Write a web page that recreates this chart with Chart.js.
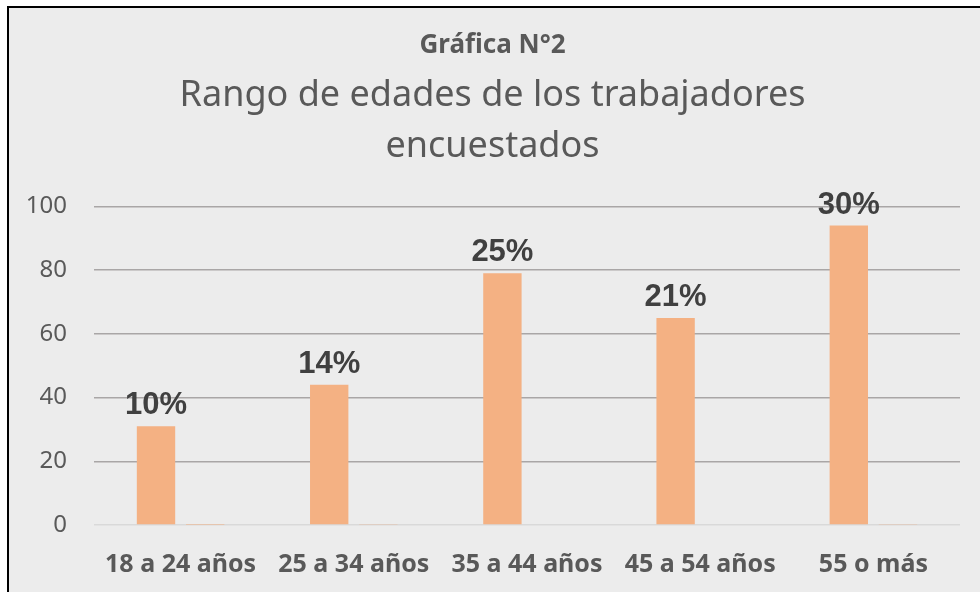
<!DOCTYPE html>
<html>
<head>
<meta charset="utf-8">
<script src="https://cdn.jsdelivr.net/npm/chart.js@4"></script>
<style>
  html, body { margin: 0; padding: 0; background: #ffffff; }
  .frame {
    position: absolute; left: 7px; top: 6px; width: 990px; height: 600px;
    background: #ececec; border-left: 2px solid #000; border-top: 2px solid #000;
  }
  .wrap { position: absolute; left: 0; top: 0; width: 980px; height: 592px; }
</style>
</head>
<body>
<div class="frame"></div>
<div class="wrap"><canvas id="edadesChart"></canvas></div>
<script>
// data
const categories = ['18 a 24 años', '25 a 34 años', '35 a 44 años', '45 a 54 años', '55 o más'];
const workers = [31, 44, 79, 65, 94];
const shares = [0.10, 0.14, 0.25, 0.21, 0.30];
const shareLabels = ['10%', '14%', '25%', '21%', '30%'];
const yTicks = [0, 20, 40, 60, 80, 100];

const FONT = '"Noto Sans", "Open Sans", sans-serif';

// draws the % above the first series bars
const barLabels = {
    id: 'barLabels',
    afterDatasetsDraw(chart) {
        const ctx = chart.ctx;
        const meta = chart.getDatasetMeta(0);
        ctx.save();
        ctx.font = 'bold 31px "Liberation Sans", Arial, sans-serif';
        ctx.fillStyle = '#404040';
        ctx.textAlign = 'center';
        ctx.textBaseline = 'alphabetic';
        meta.data.forEach((bar, i) => {
            ctx.fillText(shareLabels[i], bar.x, bar.y - 12);
        });
        ctx.restore();
    }
};

function draw() {
    new Chart(document.getElementById('edadesChart'), {
        type: 'bar',
        data: {
            labels: categories,
            datasets: [
                {
                    label: 'Trabajadores',
                    data: workers,
                    backgroundColor: '#f4b183',
                    borderWidth: 0,
                    categoryPercentage: 0.568,
                    barPercentage: 0.78
                },
                {
                    label: 'Porcentaje',
                    data: shares,
                    backgroundColor: '#f4b183',
                    borderWidth: 0,
                    categoryPercentage: 0.568,
                    barPercentage: 0.78
                }
            ]
        },
        options: {
            responsive: true,
            maintainAspectRatio: false,
            animation: false,
            layout: { padding: { left: 25, right: 20, top: 30, bottom: 0 } },
            plugins: {
                legend: { display: false },
                tooltip: { enabled: false },
                title: {
                    display: true,
                    text: 'Gráfica N°2',
                    color: '#595959',
                    font: { family: FONT, size: 26, weight: 'bold', lineHeight: 1.2 },
                    padding: { top: 0, bottom: 3 }
                },
                subtitle: {
                    display: true,
                    text: ['Rango de edades de los trabajadores', 'encuestados'],
                    color: '#595959',
                    font: { family: FONT, size: 36, weight: 'normal', lineHeight: 1.42 },
                    padding: { top: 6, bottom: 34 }
                }
            },
            scales: {
                y: {
                    min: 0,
                    max: 100,
                    afterBuildTicks: axis => { axis.ticks = yTicks.map(v => ({ value: v })); },
                    afterFit: axis => { axis.width = 69; },
                    border: { display: false },
                    grid: {
                        drawTicks: false,
                        lineWidth: 1.5,
                        color: c => (c.tick && c.tick.value === 0) ? '#d9d9d9' : '#a9a6a6'
                    },
                    ticks: {
                        padding: 27,
                        color: '#595959',
                        font: { family: FONT, size: 24 }
                    }
                },
                x: {
                    afterFit: axis => { axis.height = 67; },
                    border: { display: false },
                    grid: { display: false, drawTicks: false },
                    ticks: {
                        padding: 25,
                        autoSkip: false,
                        maxRotation: 0,
                        color: '#595959',
                        font: { family: FONT, size: 25, weight: 'bold' }
                    }
                }
            }
        },
        plugins: [barLabels]
    });
}

Promise.all([
    document.fonts.load('23px "Noto Sans"'),
    document.fonts.load('bold 23px "Noto Sans"'),
    document.fonts.load('bold 31px "Liberation Sans"')
]).then(draw, draw);
</script>
</body>
</html>
